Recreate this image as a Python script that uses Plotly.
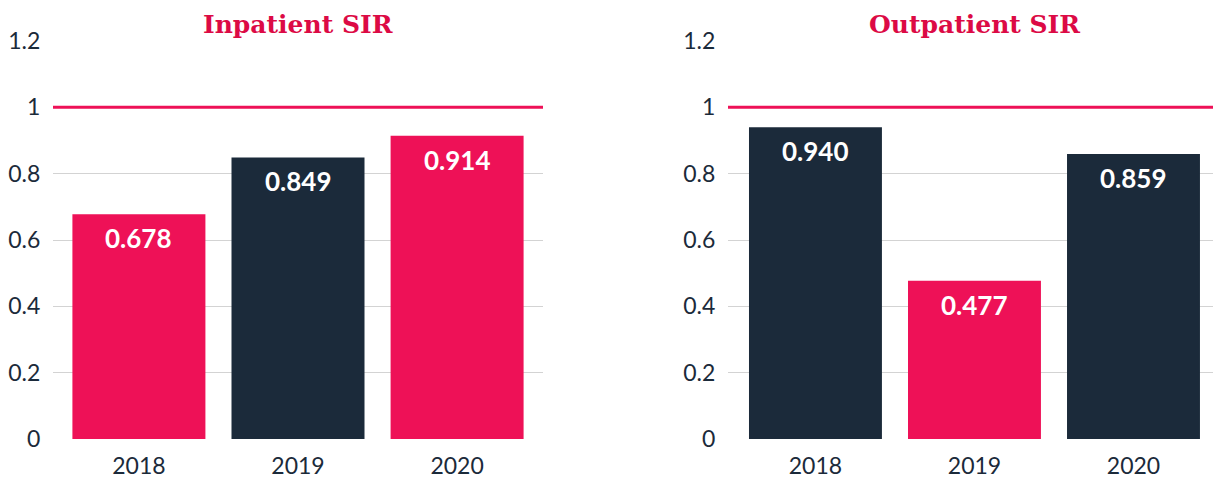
import plotly.graph_objects as go
from plotly.subplots import make_subplots

years = ["2018", "2019", "2020"]
inpatient_sir = [0.678, 0.849, 0.914]
outpatient_sir = [0.940, 0.477, 0.859]
inpatient_colors = ["#ee1157", "#1b2a3a", "#ee1157"]
outpatient_colors = ["#1b2a3a", "#ee1157", "#1b2a3a"]
panel_titles = ["Inpatient SIR", "Outpatient SIR"]
tick_vals = [0, 0.2, 0.4, 0.6, 0.8, 1, 1.2]
tick_text = ["0", "0.2", "0.4", "0.6", "0.8", "1", "1.2"]
benchmark = 1

PINK = "#ee1157"
NAVY = "#1b2a3a"
TITLE_RED = "#dc0a45"

W, H = 1213, 481
mt, mb = 41, 42
plot_h = H - mt - mb

xpos = list(range(len(years)))

fig = make_subplots(rows=1, cols=2)

panels = [(inpatient_sir, inpatient_colors), (outpatient_sir, outpatient_colors)]
for i, (vals, cols) in enumerate(panels, start=1):
    fig.add_trace(go.Bar(x=xpos, y=vals, marker=dict(color=cols, line=dict(width=0)),
                         showlegend=False, hoverinfo="y"), row=1, col=i)
    xr = "x" if i == 1 else "x2"
    yr = "y" if i == 1 else "y2"
    for xp, v in zip(xpos, vals):
        fig.add_annotation(x=xp, y=v, xref=xr, yref=yr, text=f"<b>{v:.3f}</b>",
                           showarrow=False, yanchor="top", yshift=-6,
                           font=dict(family="Lato", size=26, color="white"))
    fig.add_annotation(x=xpos[1], xref=xr, y=1 + (mt - 24) / plot_h, yref="paper",
                       text=f"<b>{panel_titles[i-1]}</b>", showarrow=False,
                       yanchor="middle",
                       font=dict(family="DejaVu Serif", size=25, color=TITLE_RED))
    fig.add_shape(type="line", xref=f"{xr} domain", yref=yr, x0=0, x1=1,
                  y0=benchmark, y1=benchmark, line=dict(color=PINK, width=3), layer="above")

axis_y = dict(range=[0, 1.2], tickvals=tick_vals, ticktext=tick_text,
              showgrid=True, gridcolor="#d3d3d3", gridwidth=1,
              zeroline=False, showline=False,
              ticks="outside", ticklen=7, tickcolor="rgba(0,0,0,0)",
              tickfont=dict(family="Lato", size=23, color=NAVY),
              automargin=False, fixedrange=True)
axis_x = dict(showgrid=False, zeroline=False, showline=False,
              tickvals=xpos, ticktext=years,
              ticks="outside", ticklen=6, tickcolor="rgba(0,0,0,0)",
              tickfont=dict(family="Lato", size=23, color=NAVY),
              automargin=False, fixedrange=True)

fig.update_layout(
    width=W, height=H,
    margin=dict(l=0, r=0, t=mt, b=mb),
    paper_bgcolor="white", plot_bgcolor="white",
    bargap=0.164,
    xaxis=dict(axis_x, domain=[53 / W, 543 / W], range=[-0.54, 2.54]),
    xaxis2=dict(axis_x, domain=[728 / W, 1.0], range=[-0.55, 2.5]),
    yaxis=axis_y,
    yaxis2=axis_y,
)

fig.write_html("out.html")
